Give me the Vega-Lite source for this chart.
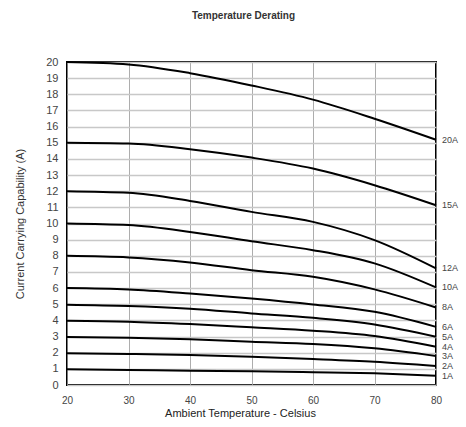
{
  "$schema": "https://vega.github.io/schema/vega-lite/v6.json",
  "autosize": "none",
  "width": 369,
  "height": 323,
  "padding": {"left": 67, "top": 62, "right": 30, "bottom": 42},
  "background": "white",
  "title": {"text": "Temperature Derating", "font": "Liberation Sans", "fontSize": 10, "fontWeight": "bold", "color": "#333", "offset": 35, "anchor": "middle", "dx": -8},
  "config": {
    "view": {"stroke": "black", "strokeWidth": 2},
    "font": "Liberation Sans"
  },
  "data": {"values": [
    {"s": "20A", "t": 20, "a": 20.0}, {"s": "20A", "t": 30, "a": 19.85}, {"s": "20A", "t": 40, "a": 19.31}, {"s": "20A", "t": 50, "a": 18.55}, {"s": "20A", "t": 60, "a": 17.67}, {"s": "20A", "t": 70, "a": 16.49}, {"s": "20A", "t": 80, "a": 15.19},
    {"s": "15A", "t": 20, "a": 15.0}, {"s": "15A", "t": 30, "a": 14.95}, {"s": "15A", "t": 40, "a": 14.6}, {"s": "15A", "t": 50, "a": 14.08}, {"s": "15A", "t": 60, "a": 13.4}, {"s": "15A", "t": 70, "a": 12.37}, {"s": "15A", "t": 80, "a": 11.13},
    {"s": "12A", "t": 20, "a": 12.0}, {"s": "12A", "t": 30, "a": 11.9}, {"s": "12A", "t": 40, "a": 11.4}, {"s": "12A", "t": 50, "a": 10.72}, {"s": "12A", "t": 60, "a": 10.1}, {"s": "12A", "t": 70, "a": 8.97}, {"s": "12A", "t": 80, "a": 7.22},
    {"s": "10A", "t": 20, "a": 10.0}, {"s": "10A", "t": 30, "a": 9.9}, {"s": "10A", "t": 40, "a": 9.48}, {"s": "10A", "t": 50, "a": 8.9}, {"s": "10A", "t": 60, "a": 8.35}, {"s": "10A", "t": 70, "a": 7.53}, {"s": "10A", "t": 80, "a": 6.04},
    {"s": "8A", "t": 20, "a": 8.0}, {"s": "8A", "t": 30, "a": 7.9}, {"s": "8A", "t": 40, "a": 7.59}, {"s": "8A", "t": 50, "a": 7.11}, {"s": "8A", "t": 60, "a": 6.7}, {"s": "8A", "t": 70, "a": 5.92}, {"s": "8A", "t": 80, "a": 4.8},
    {"s": "6A", "t": 20, "a": 6.0}, {"s": "6A", "t": 30, "a": 5.92}, {"s": "6A", "t": 40, "a": 5.67}, {"s": "6A", "t": 50, "a": 5.36}, {"s": "6A", "t": 60, "a": 4.99}, {"s": "6A", "t": 70, "a": 4.53}, {"s": "6A", "t": 80, "a": 3.6},
    {"s": "5A", "t": 20, "a": 4.97}, {"s": "5A", "t": 30, "a": 4.89}, {"s": "5A", "t": 40, "a": 4.72}, {"s": "5A", "t": 50, "a": 4.43}, {"s": "5A", "t": 60, "a": 4.16}, {"s": "5A", "t": 70, "a": 3.75}, {"s": "5A", "t": 80, "a": 2.99},
    {"s": "4A", "t": 20, "a": 3.98}, {"s": "4A", "t": 30, "a": 3.92}, {"s": "4A", "t": 40, "a": 3.77}, {"s": "4A", "t": 50, "a": 3.57}, {"s": "4A", "t": 60, "a": 3.36}, {"s": "4A", "t": 70, "a": 3.03}, {"s": "4A", "t": 80, "a": 2.37},
    {"s": "3A", "t": 20, "a": 2.97}, {"s": "3A", "t": 30, "a": 2.93}, {"s": "3A", "t": 40, "a": 2.83}, {"s": "3A", "t": 50, "a": 2.68}, {"s": "3A", "t": 60, "a": 2.54}, {"s": "3A", "t": 70, "a": 2.27}, {"s": "3A", "t": 80, "a": 1.79},
    {"s": "2A", "t": 20, "a": 1.96}, {"s": "2A", "t": 30, "a": 1.92}, {"s": "2A", "t": 40, "a": 1.86}, {"s": "2A", "t": 50, "a": 1.75}, {"s": "2A", "t": 60, "a": 1.61}, {"s": "2A", "t": 70, "a": 1.44}, {"s": "2A", "t": 80, "a": 1.18},
    {"s": "1A", "t": 20, "a": 0.97}, {"s": "1A", "t": 30, "a": 0.93}, {"s": "1A", "t": 40, "a": 0.88}, {"s": "1A", "t": 50, "a": 0.85}, {"s": "1A", "t": 60, "a": 0.79}, {"s": "1A", "t": 70, "a": 0.72}, {"s": "1A", "t": 80, "a": 0.58}
  ]},
  "encoding": {
    "x": {"field": "t", "type": "quantitative", "scale": {"domain": [20, 80], "nice": false, "zero": false},
      "axis": {"title": "Ambient Temperature - Celsius", "values": [20, 30, 40, 50, 60, 70, 80], "ticks": false, "domain": false, "labelFlush": false,
        "labelFont": "Liberation Sans", "labelFontSize": 10, "labelColor": "#444", "labelPadding": 10,
        "titleFont": "Liberation Sans", "titleFontSize": 11, "titleFontWeight": "normal", "titleColor": "#222", "titlePadding": 2, "titleX": 173,
        "gridColor": "#999", "gridWidth": 1, "gridOpacity": 0.8}},
    "y": {"field": "a", "type": "quantitative", "scale": {"domain": [0, 20], "nice": false},
      "axis": {"title": "Current Carrying Capability (A)", "values": [0,1,2,3,4,5,6,7,8,9,10,11,12,13,14,15,16,17,18,19,20], "ticks": false, "domain": false, "labelFlush": false,
        "labelFont": "Liberation Sans", "labelFontSize": 11, "labelColor": "#444", "labelPadding": 9,
        "titleFont": "Liberation Sans", "titleFontSize": 11, "titleFontWeight": "normal", "titleColor": "#333", "titlePadding": 20,
        "gridColor": "#c8c8c8", "gridWidth": 1.5}}
  },
  "layer": [
    {"mark": {"type": "line", "color": "black", "strokeWidth": 2, "interpolate": "monotone"},
     "encoding": {"detail": {"field": "s"}}},
    {"transform": [{"filter": "datum.t == 80"}],
     "mark": {"type": "text", "align": "left", "baseline": "middle", "dx": 6, "font": "Liberation Sans", "fontSize": 9, "color": "#444"},
     "encoding": {"text": {"field": "s"}}}
  ]
}
